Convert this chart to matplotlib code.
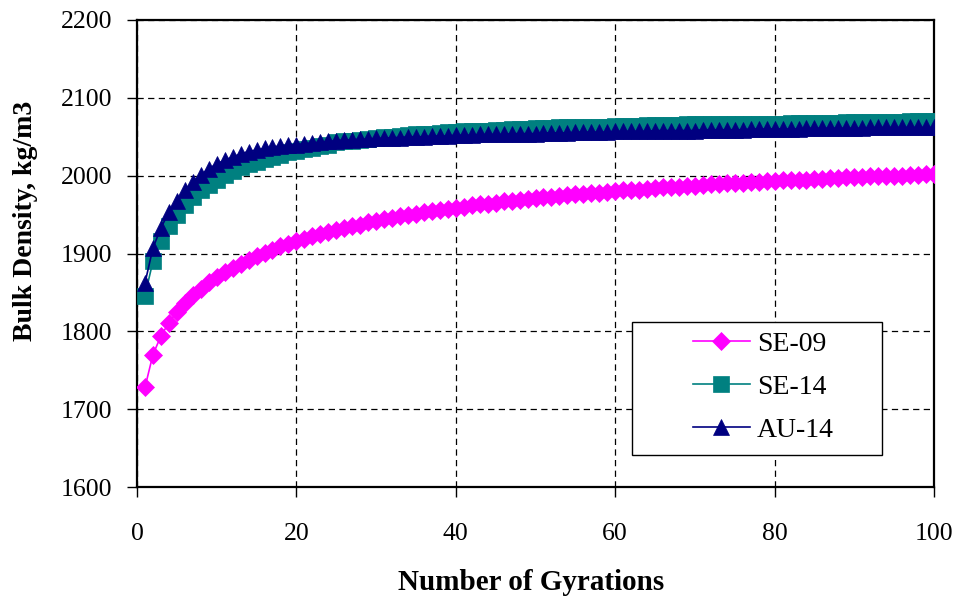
import matplotlib
matplotlib.use("Agg")
import matplotlib.pyplot as plt
from matplotlib.patches import Rectangle
from matplotlib.ticker import MultipleLocator

# Gyratory compaction curves: bulk density after each gyration
gyrations = list(range(1, 101))

se09 = [
    1728, 1770, 1794, 1811, 1825, 1837, 1847, 1855, 1863, 1870,
    1876, 1882, 1887, 1892, 1897, 1901, 1905, 1909, 1912, 1916,
    1919, 1922, 1925, 1928, 1930, 1933, 1935, 1937, 1940, 1942,
    1944, 1946, 1948, 1949, 1951, 1953, 1954, 1956, 1957, 1959,
    1960, 1962, 1963, 1964, 1965, 1967, 1968, 1969, 1970, 1971,
    1972, 1973, 1974, 1975, 1976, 1977, 1978, 1978, 1979, 1980,
    1981, 1982, 1982, 1983, 1984, 1985, 1985, 1986, 1987, 1987,
    1988, 1989, 1989, 1990, 1990, 1991, 1992, 1992, 1993, 1993,
    1994, 1994, 1995, 1995, 1996, 1996, 1997, 1997, 1998, 1998,
    1998, 1999, 1999, 2000, 2000, 2000, 2001, 2001, 2002, 2002,
]

se14 = [
    1846, 1890, 1916, 1935, 1950, 1962, 1972, 1981, 1988, 1995,
    2001, 2006, 2011, 2015, 2018, 2021, 2024, 2027, 2030, 2032,
    2034, 2036, 2038, 2040, 2043, 2044, 2045, 2046, 2047, 2049,
    2050, 2050, 2051, 2052, 2053, 2054, 2054, 2055, 2056, 2056,
    2057, 2057, 2058, 2058, 2059, 2059, 2060, 2060, 2060, 2061,
    2061, 2061, 2062, 2062, 2062, 2063, 2063, 2063, 2063, 2064,
    2064, 2064, 2064, 2065, 2065, 2065, 2065, 2065, 2066, 2066,
    2066, 2066, 2066, 2066, 2067, 2067, 2067, 2067, 2067, 2067,
    2067, 2068, 2068, 2068, 2068, 2068, 2068, 2068, 2069, 2069,
    2069, 2069, 2069, 2069, 2069, 2069, 2070, 2070, 2070, 2070,
]

au14 = [
    1862, 1907, 1933, 1953, 1968, 1981, 1992, 2001, 2009, 2015,
    2020, 2024, 2028, 2031, 2033, 2035, 2037, 2038, 2039, 2040,
    2041, 2042, 2043, 2044, 2045, 2046, 2046, 2047, 2047, 2048,
    2048, 2049, 2049, 2050, 2050, 2050, 2051, 2051, 2051, 2052,
    2052, 2052, 2053, 2053, 2053, 2053, 2054, 2054, 2054, 2054,
    2055, 2055, 2055, 2055, 2056, 2056, 2056, 2056, 2056, 2057,
    2057, 2057, 2057, 2057, 2058, 2058, 2058, 2058, 2058, 2058,
    2059, 2059, 2059, 2059, 2059, 2059, 2060, 2060, 2060, 2060,
    2060, 2060, 2060, 2061, 2061, 2061, 2061, 2061, 2061, 2061,
    2061, 2062, 2062, 2062, 2062, 2062, 2062, 2062, 2062, 2062,
]

series = [
    ("SE-09", se09, "#FF00FF", "D", 9.0, 9.2),
    ("SE-14", se14, "#008080", "s", 11.0, 11.2),
    ("AU-14", au14, "#000080", "^", 11.5, 11.0),
]

plt.rcParams["font.family"] = ["Liberation Serif", "DejaVu Serif"]

fig = plt.figure(figsize=(9.6, 6.01), dpi=100)
ax = fig.add_axes([137 / 960, 1 - 487 / 601, 797 / 960, 467 / 601])

for name, vals, color, marker, ms, _ in series:
    ax.plot(gyrations, vals, color=color, linewidth=1.2, marker=marker,
            markersize=ms, markerfacecolor=color, markeredgecolor=color,
            markeredgewidth=0.5, label=name, zorder=3)

ax.set_xlim(0, 100)
ax.set_ylim(1600, 2200)
ax.xaxis.set_major_locator(MultipleLocator(20))
ax.yaxis.set_major_locator(MultipleLocator(100))

ax.grid(True, color="black", linestyle=(0, (5, 3.5)), linewidth=0.9)
ax.set_axisbelow(True)

for side in ("left", "right", "top", "bottom"):
    ax.spines[side].set_linewidth(1.6)
    ax.spines[side].set_color("black")

ax.tick_params(axis="both", direction="out", length=7, width=1.0,
               labelsize=18.5, colors="black")
ax.tick_params(axis="x", pad=19)
ax.tick_params(axis="y", pad=11)

fig.text(531 / 960, 1 - 582 / 601, "Number of Gyrations", ha="center",
         va="center", fontsize=21, fontweight="bold")
fig.text(26 / 960, 1 - 221 / 601, "Bulk Density, kg/m3", ha="center",
         va="center", rotation=90, fontsize=20, fontweight="bold")

# legend box with wide side margins, entries placed inside it
box = Rectangle((632 / 960, 1 - 455 / 601), 250 / 960, 133 / 601,
                transform=fig.transFigure, facecolor="white",
                edgecolor="black", linewidth=1.0, zorder=4, clip_on=False)
ax.add_patch(box)

leg = ax.legend(loc="center left", bbox_to_anchor=(693 / 960, 1 - 387 / 601),
                bbox_transform=fig.transFigure, fontsize=20, frameon=False,
                handlelength=2.05, borderpad=0, labelspacing=0.63,
                handletextpad=0.25, borderaxespad=0)
leg.set_zorder(5)
for h, s in zip(leg.legend_handles, series):
    h.set_markersize(s[5])

fig.savefig("out.png", dpi=100)
